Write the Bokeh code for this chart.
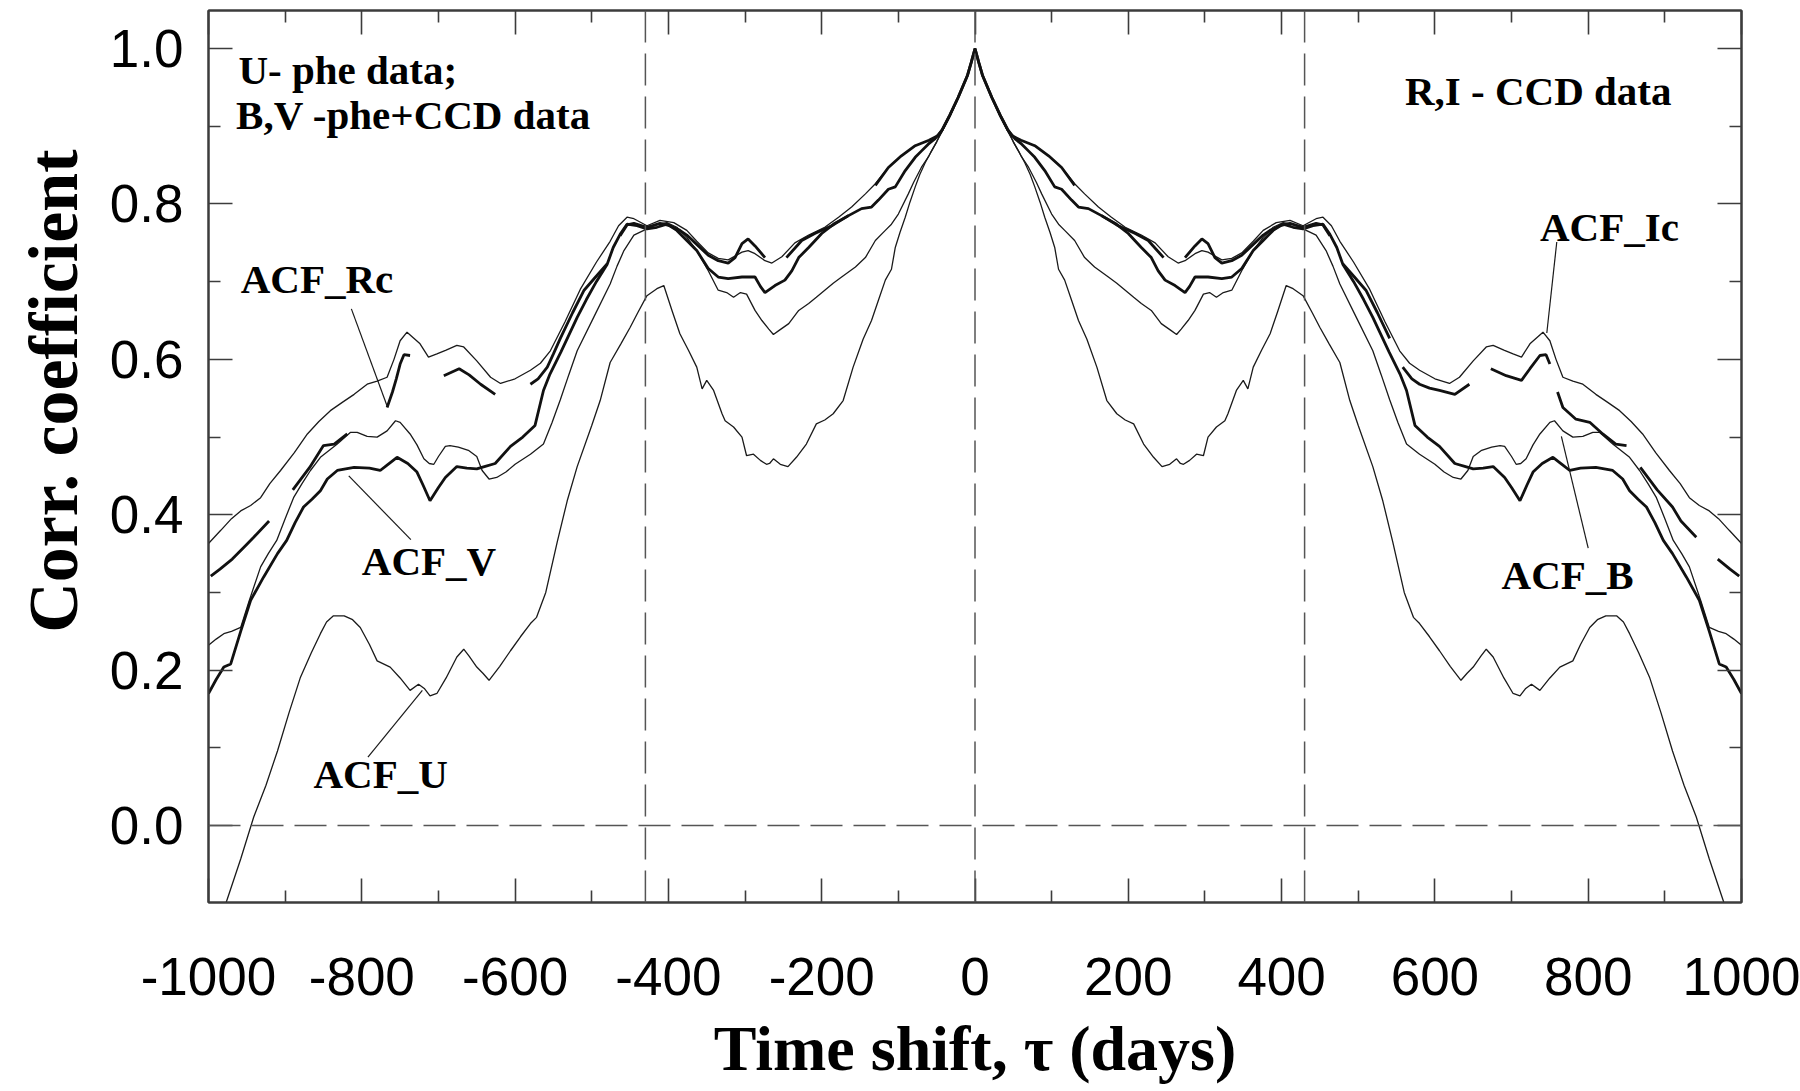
import math
from bokeh.plotting import figure
from bokeh.models import Range1d, LinearAxis, FixedTicker, Span, Label, Title, CustomJSTickFormatter
from bokeh.embed import file_html
from bokeh.resources import INLINE

# ---------------- data (positive time lags; ACF is symmetric) ----------------
u_lag = [0, 5, 10, 22, 33, 43, 50, 58, 65, 72, 78, 85, 91, 98, 104, 109, 117, 126, 135, 146, 159, 172, 185, 196,
         207, 220, 233, 244, 254, 263, 268, 272, 280, 289, 298, 304, 315, 326, 330, 341, 350, 356, 363, 374, 385,
         395, 406, 415, 428, 440, 450, 462, 476, 489, 500, 519, 532, 545, 560, 572, 580, 593, 606, 620, 634, 642,
         650, 660, 667, 676, 690, 702, 711, 718, 726, 737, 750, 763, 780, 790, 802, 812, 823, 837, 846, 854, 866,
         880, 895, 910, 925, 941, 958, 976, 985]
u_acf = [1.0, 0.982, 0.965, 0.937, 0.912, 0.893, 0.880, 0.866, 0.853, 0.838, 0.822, 0.802, 0.783, 0.763, 0.744,
         0.716, 0.702, 0.676, 0.650, 0.626, 0.590, 0.547, 0.530, 0.522, 0.517, 0.491, 0.474, 0.462, 0.465, 0.472,
         0.466, 0.465, 0.470, 0.478, 0.476, 0.500, 0.513, 0.521, 0.530, 0.560, 0.573, 0.562, 0.590, 0.612, 0.633,
         0.662, 0.695, 0.691, 0.682, 0.660, 0.641, 0.620, 0.596, 0.547, 0.515, 0.462, 0.418, 0.365, 0.300, 0.268,
         0.260, 0.243, 0.225, 0.205, 0.187, 0.196, 0.204, 0.218, 0.227, 0.217, 0.190, 0.170, 0.167, 0.176, 0.182,
         0.174, 0.190, 0.204, 0.212, 0.233, 0.255, 0.265, 0.270, 0.270, 0.262, 0.247, 0.222, 0.191, 0.145, 0.096,
         0.052, 0.011, -0.043, -0.096, -0.125]

b_lag = [0, 5, 10, 22, 33, 43, 50, 60, 70, 80, 87, 100, 109, 117, 130, 143, 156, 174, 185, 196, 207, 217, 230,
         243, 256, 263, 269, 278, 287, 298, 306, 315, 324, 335, 348, 363, 376, 389, 402, 415, 428, 445, 458, 467,
         476, 497, 519, 530, 541, 552, 563, 580, 600, 612, 624, 634, 643, 650, 661, 674, 685, 691, 700, 706, 712,
         719, 728, 737, 750, 756, 767, 780, 793, 806, 815, 832, 854, 867, 878, 889, 900, 911, 922, 932, 947, 958,
         970, 980, 990, 1000]
b_acf = [1.0, 0.982, 0.965, 0.937, 0.914, 0.895, 0.880, 0.862, 0.847, 0.828, 0.813, 0.787, 0.774, 0.766, 0.753,
         0.731, 0.719, 0.706, 0.698, 0.689, 0.680, 0.672, 0.663, 0.646, 0.637, 0.632, 0.639, 0.650, 0.663, 0.684,
         0.686, 0.680, 0.686, 0.689, 0.714, 0.740, 0.757, 0.770, 0.776, 0.774, 0.768, 0.760, 0.740, 0.720, 0.697,
         0.655, 0.611, 0.580, 0.548, 0.518, 0.491, 0.478, 0.465, 0.455, 0.448, 0.446, 0.457, 0.475, 0.483, 0.487,
         0.489, 0.488, 0.475, 0.465, 0.466, 0.472, 0.490, 0.504, 0.519, 0.521, 0.508, 0.500, 0.501, 0.506, 0.506,
         0.491, 0.474, 0.457, 0.440, 0.422, 0.395, 0.367, 0.350, 0.333, 0.289, 0.255, 0.250, 0.247, 0.240, 0.232]

v_lag = [0, 5, 10, 22, 33, 43, 52, 61, 70, 78, 91, 104, 113, 126, 135, 148, 165, 183, 200, 217, 230, 239, 248,
         261, 274, 280, 287, 304, 322, 335, 348, 363, 376, 389, 402, 415, 428, 441, 454, 463, 472, 480, 494, 507,
         519, 540, 555, 563, 574, 590, 606, 626, 640, 650, 663, 676, 691, 700, 711, 720, 728, 740, 754, 767, 776,
         790, 810, 832, 845, 854, 865, 876, 887, 898, 910, 928, 945, 958, 971, 980, 990, 1000]
v_acf = [1.0, 0.982, 0.965, 0.937, 0.914, 0.895, 0.884, 0.877, 0.868, 0.860, 0.843, 0.822, 0.819, 0.805, 0.796,
         0.794, 0.785, 0.775, 0.762, 0.744, 0.731, 0.714, 0.702, 0.695, 0.686, 0.694, 0.706, 0.706, 0.704, 0.706,
         0.717, 0.740, 0.753, 0.766, 0.774, 0.770, 0.768, 0.772, 0.774, 0.761, 0.744, 0.722, 0.700, 0.677, 0.654,
         0.610, 0.580, 0.560, 0.515, 0.500, 0.488, 0.466, 0.462, 0.459, 0.460, 0.462, 0.448, 0.435, 0.418, 0.438,
         0.455, 0.466, 0.474, 0.464, 0.457, 0.460, 0.461, 0.457, 0.446, 0.431, 0.420, 0.410, 0.390, 0.367, 0.350,
         0.320, 0.290, 0.250, 0.208, 0.204, 0.188, 0.170]

ic_lag = [0, 5, 10, 22, 33, 43, 48, 60, 78, 96, 113, 130, 143, 161, 178, 196, 217, 235, 252, 265, 274, 287, 296,
          304, 322, 335, 348, 363, 376, 393, 411, 428, 445, 454, 465, 476, 494, 515, 535, 554, 567, 580, 600, 619,
          632, 650, 667, 676, 690, 702, 713, 724, 741, 750, 758, 767, 780, 793, 810, 825, 841, 856, 871, 888, 906,
          920, 932, 945, 958, 970, 984, 1000]
ic_acf = [1.0, 0.982, 0.965, 0.937, 0.914, 0.895, 0.888, 0.882, 0.875, 0.862, 0.847, 0.826, 0.813, 0.796, 0.783,
          0.770, 0.760, 0.750, 0.732, 0.724, 0.727, 0.736, 0.740, 0.738, 0.728, 0.730, 0.737, 0.752, 0.766, 0.776,
          0.779, 0.772, 0.781, 0.783, 0.772, 0.752, 0.725, 0.690, 0.648, 0.611, 0.595, 0.586, 0.575, 0.569, 0.577,
          0.598, 0.616, 0.618, 0.612, 0.607, 0.603, 0.620, 0.635, 0.624, 0.600, 0.577, 0.572, 0.568, 0.555, 0.545,
          0.534, 0.520, 0.504, 0.480, 0.457, 0.440, 0.422, 0.412, 0.405, 0.395, 0.380, 0.363]

rc_lag = [0, 5, 10, 22, 33, 43, 48, 60, 78, 96, 113, 130, 148, 165, 187, 209, 226, 246, 260, 274, 287, 296, 304,
          313, 322, 335, 348, 363, 376, 385, 398, 411, 428, 445, 454, 463, 471, 480, 495, 510, 525, 541, 550, 558,
          570, 580, 593, 606, 626, 645, 660, 673, 693, 713, 724, 737, 745, 750, 755, 760, 767, 784, 802, 819, 836,
          850, 859, 868, 890, 910, 921, 941, 955, 969, 985, 997]
rc_acf = [1.0, 0.982, 0.965, 0.937, 0.914, 0.895, 0.888, 0.882, 0.875, 0.862, 0.847, 0.824, 0.803, 0.785, 0.772,
          0.762, 0.753, 0.731, 0.728, 0.731, 0.746, 0.755, 0.749, 0.731, 0.724, 0.727, 0.734, 0.748, 0.760, 0.766,
          0.772, 0.775, 0.770, 0.775, 0.773, 0.759, 0.740, 0.723, 0.706, 0.689, 0.660, 0.627, 0.607, 0.590, 0.575,
          0.568, 0.563, 0.560, 0.555, 0.568, 0.580, 0.588, 0.579, 0.573, 0.588, 0.605, 0.606, 0.594, 0.575, 0.558,
          0.538, 0.523, 0.519, 0.504, 0.491, 0.489, 0.475, 0.461, 0.432, 0.410, 0.392, 0.371, 0.357, 0.343, 0.330,
          0.321]
# lag ranges where the R_c series has no points (negative side, positive side)
rc_gaps_neg = [(130, 165), (246, 274), (463, 480), (589, 621), (708, 730), (780, 812), (895, 921)]
rc_gaps_pos = [(130, 165), (246, 274), (463, 480), (541, 558), (645, 673), (750, 760), (850, 868), (941, 969)]

ref_lags = [-430, 0, 430]

x_major = [-1000, -800, -600, -400, -200, 0, 200, 400, 600, 800, 1000]
x_labels = ["-1000", "-800", "-600", "-400", "-200", "0", "200", "400", "600", "800", "1000"]
x_minor = [-900, -700, -500, -300, -100, 100, 300, 500, 700, 900]
y_major = [0.0, 0.2, 0.4, 0.6, 0.8, 1.0]
y_labels = ["0.0", "0.2", "0.4", "0.6", "0.8", "1.0"]
y_minor = [0.1, 0.3, 0.5, 0.7, 0.9]

x_title = "Time shift, \u03c4 (days)"
y_title = "Corr. coefficient"

ann_texts = ["U- phe data;", "B,V -phe+CCD data", "R,I - CCD data", "ACF_Rc", "ACF_V", "ACF_U", "ACF_Ic", "ACF_B"]
ann_x = [-961, -964, 561, -958, -800, -863, 737, 687]
ann_y = [0.972, 0.914, 0.946, 0.704, 0.340, 0.066, 0.771, 0.322]

lead_x0 = [-813.6, -817, -721, 759, 765]
lead_y0 = [0.665, 0.450, 0.174, 0.751, 0.501]
lead_x1 = [-767, -736, -792, 746, 800]
lead_y1 = [0.540, 0.368, 0.088, 0.634, 0.357]


def inside(l, gaps):
    return any(a < l < b for a, b in gaps)


def mirror(lags, vals, gaps_neg=(), gaps_pos=()):
    xs, ys = [], []
    for l, v in zip(lags[::-1], vals[::-1]):
        xs.append(-l)
        ys.append(float("nan") if inside(l, gaps_neg) else v)
    for l, v in zip(lags[1:], vals[1:]):
        xs.append(l)
        ys.append(float("nan") if inside(l, gaps_pos) else v)
    return xs, ys


p = figure(width=1800, height=1091, x_range=Range1d(-1000, 1000), y_range=Range1d(-0.099, 1.049),
           output_backend="svg", toolbar_location=None,
           min_border_left=208, min_border_right=59, min_border_top=10, min_border_bottom=189)
p.xgrid.visible = False
p.ygrid.visible = False
p.outline_line_color = "#3c3c3c"
p.outline_line_width = 2
p.background_fill_color = "white"
p.border_fill_color = "white"

AX = "#3c3c3c"
TICK_FONT = "Liberation Sans"


def style(ax, ticks, minors, labels, show):
    ax.ticker = FixedTicker(ticks=ticks, minor_ticks=minors)
    ax.axis_line_color = AX
    ax.axis_line_width = 2
    ax.major_tick_line_color = AX
    ax.major_tick_line_width = 1.6
    ax.minor_tick_line_color = AX
    ax.minor_tick_line_width = 1.6
    ax.major_tick_in = 24
    ax.major_tick_out = 0
    ax.minor_tick_in = 12
    ax.minor_tick_out = 0
    if show:
        ax.major_label_overrides = {t: s for t, s in zip(ticks, labels)}
        ax.major_label_text_font = TICK_FONT
        ax.major_label_text_font_size = "53px"
        ax.major_label_text_color = "black"
    else:
        ax.formatter = CustomJSTickFormatter(code="return ''")
        ax.major_label_text_font_size = "0px"
        ax.major_label_standoff = 0
        ax.axis_label_standoff = 0


xa = p.xaxis[0]
style(xa, x_major, x_minor, x_labels, True)
xa.major_label_standoff = 55
xa.axis_label = x_title
xa.axis_label_text_font = "Liberation Serif"
xa.axis_label_text_font_style = "bold"
xa.axis_label_text_font_size = "64px"
xa.axis_label_text_color = "black"
xa.axis_label_standoff = 15

style(p.yaxis[0], y_major, y_minor, y_labels, True)
p.yaxis[0].major_label_standoff = 25

top = LinearAxis()
style(top, x_major, x_minor, x_labels, False)
p.add_layout(top, "above")
right = LinearAxis()
style(right, y_major, y_minor, y_labels, False)
p.add_layout(right, "right")

# y-axis title as a side title (lets it sit above the frame centre like the original)
p.add_layout(Title(text=y_title, align="right", offset=139, vertical_align="top", standoff=26,
                   text_font="Liberation Serif", text_font_style="bold", text_font_size="70px",
                   text_color="black"), "left")

# reference dashed lines
for lag in ref_lags:
    p.add_layout(Span(location=lag, dimension="height", line_color="#555555", line_width=1.5, line_dash="32 11"))
p.add_layout(Span(location=0, dimension="width", line_color="#555555", line_width=1.5, line_dash="32 11"))

# curves
for lags, vals in [(u_lag, u_acf), (b_lag, b_acf), (ic_lag, ic_acf)]:
    xs, ys = mirror(lags, vals)
    p.line(xs, ys, line_color="#1a1a1a", line_width=1.3)
xs, ys = mirror(v_lag, v_acf)
p.line(xs, ys, line_color="#111111", line_width=2.8)
xs, ys = mirror(rc_lag, rc_acf, rc_gaps_neg, rc_gaps_pos)
p.line(xs, ys, line_color="#111111", line_width=2.8)

# leader lines
p.segment(x0=lead_x0, y0=lead_y0, x1=lead_x1, y1=lead_y1, line_color="#1a1a1a", line_width=1.2)

# annotation texts
for t, x, y in zip(ann_texts, ann_x, ann_y):
    p.add_layout(Label(x=x, y=y, text=t, text_font="Liberation Serif", text_font_style="bold",
                       text_font_size="41px", text_color="black", text_baseline="alphabetic", text_align="left"))

open("out.html", "w").write(file_html(p, INLINE))
